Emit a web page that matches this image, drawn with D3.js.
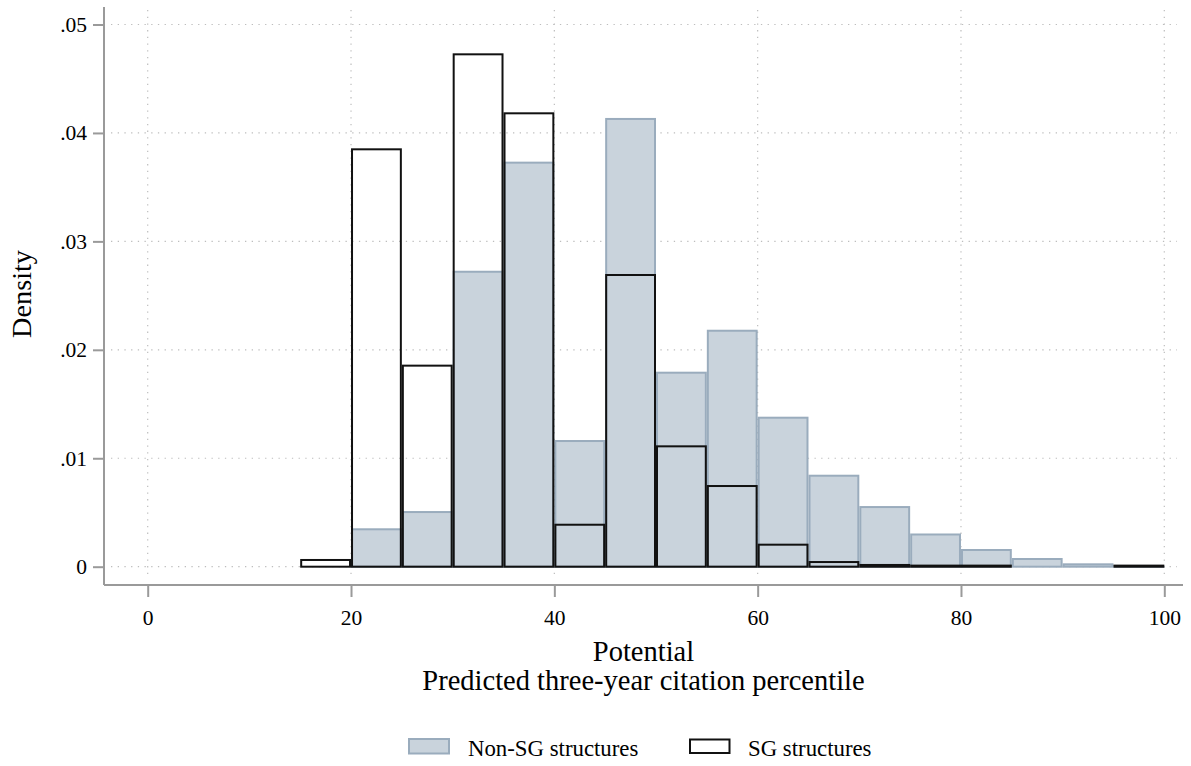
<!DOCTYPE html>
<html>
<head>
<meta charset="utf-8">
<script src="https://cdn.jsdelivr.net/npm/d3@7"></script>
<style>
  html, body { margin: 0; padding: 0; background: #fff; }
  svg { display: block; font-family: "Liberation Serif", "Times New Roman", serif; }
</style>
</head>
<body>
<svg id="chart" width="1191" height="766"></svg>
<script>
// Histogram bins (left edges, width 5) of the predicted citation percentile
const binStarts = [15, 20, 25, 30, 35, 40, 45, 50, 55, 60, 65, 70, 75, 80, 85, 90, 95];
const binWidth = 5;
// Density per bin
const nonSGDensity = [0, 0.00345, 0.00504, 0.0272, 0.03726, 0.01159, 0.04129, 0.01789, 0.02176,
                      0.01374, 0.00839, 0.0055, 0.00297, 0.00154, 0.00071, 0.00022, 0.00005];
const sgDensity    = [0.00062, 0.03849, 0.01854, 0.04725, 0.04181, 0.00387, 0.0269, 0.0111, 0.00744,
                      0.00203, 0.00043, 0.00016, 0.0001, 0.0001, 0, 0, 0.0001];
const xTicks = [0, 20, 40, 60, 80, 100];
const yTicks = [0, 0.01, 0.02, 0.03, 0.04, 0.05];
const yTickLabels = ["0", ".01", ".02", ".03", ".04", ".05"];
const seriesNames = ["Non-SG structures", "SG structures"];

const svg = d3.select("#chart");
const x = d3.scaleLinear().domain([0, 100]).range([147.7, 1164.3]);
const y = d3.scaleLinear().domain([0, 0.05]).range([566.7, 24.5]);

const axisGray = "#9a9a9a";
const fillBlue = "#c9d3dc";
const strokeBlue = "#9aacbd";

// Grid lines (dotted)
const grid = svg.append("g").attr("stroke", "#bdbdbd").attr("stroke-width", 1.2)
  .attr("stroke-dasharray", "1.3,5.4");
grid.selectAll(".hg").data(yTicks).join("line")
  .attr("x1", 111).attr("x2", 1177)
  .attr("y1", d => y(d)).attr("y2", d => y(d));
grid.selectAll(".vg").data(xTicks).join("line")
  .attr("y1", 10).attr("y2", 578)
  .attr("x1", d => x(d)).attr("x2", d => x(d));

// Non-SG bars (filled)
svg.append("g").selectAll("rect")
  .data(binStarts.map((b, i) => ({ b, v: nonSGDensity[i] })).filter(d => d.v > 0))
  .join("rect")
  .attr("x", d => x(d.b) + 1)
  .attr("width", d => x(d.b + binWidth) - x(d.b) - 2)
  .attr("y", d => y(d.v))
  .attr("height", d => y(0) - y(d.v))
  .attr("fill", fillBlue)
  .attr("stroke", strokeBlue)
  .attr("stroke-width", 2);

// SG bars (outline only)
svg.append("g").selectAll("rect")
  .data(binStarts.map((b, i) => ({ b, v: sgDensity[i] })).filter(d => d.v > 0))
  .join("rect")
  .attr("x", d => x(d.b) + 1)
  .attr("width", d => x(d.b + binWidth) - x(d.b) - 2)
  .attr("y", d => y(d.v))
  .attr("height", d => y(0) - y(d.v))
  .attr("fill", "none")
  .attr("stroke", "#111")
  .attr("stroke-width", 2);

// Y axis
const yAxis = d3.axisLeft(y).tickValues(yTicks)
  .tickFormat((d, i) => yTickLabels[i]).tickSize(11).tickPadding(6);
const gy = svg.append("g").attr("transform", "translate(104,0)").call(yAxis);
gy.select(".domain").attr("d", "M0,7V585").attr("stroke", axisGray).attr("stroke-width", 2);
gy.selectAll(".tick line").attr("stroke", axisGray).attr("stroke-width", 2);
gy.selectAll(".tick text").attr("font-size", 21.5).attr("fill", "#000")
  .attr("font-family", "Liberation Serif, serif");

// X axis
const xAxis = d3.axisBottom(x).tickValues(xTicks).tickSize(12).tickPadding(13);
const gx = svg.append("g").attr("transform", "translate(0,585)").call(xAxis);
gx.select(".domain").attr("d", "M104,0H1183").attr("stroke", axisGray).attr("stroke-width", 2);
gx.selectAll(".tick line").attr("stroke", axisGray).attr("stroke-width", 2);
gx.selectAll(".tick text").attr("font-size", 21.5).attr("fill", "#000")
  .attr("font-family", "Liberation Serif, serif");

// Axis titles
svg.append("text").attr("x", 643.5).attr("y", 661).attr("text-anchor", "middle")
  .attr("font-size", 28.5).text("Potential");
svg.append("text").attr("x", 643.5).attr("y", 690).attr("text-anchor", "middle")
  .attr("font-size", 28.5).text("Predicted three-year citation percentile");
svg.append("text").attr("transform", "translate(30.5,294) rotate(-90)")
  .attr("text-anchor", "middle").attr("font-size", 28.3).text("Density");

// Legend
const legend = svg.append("g");
legend.append("rect").attr("x", 409).attr("y", 739).attr("width", 40).attr("height", 14.5)
  .attr("fill", fillBlue).attr("stroke", strokeBlue).attr("stroke-width", 2);
legend.append("text").attr("x", 468).attr("y", 755.5).attr("font-size", 22.8).text(seriesNames[0]);
legend.append("rect").attr("x", 690).attr("y", 739.5).attr("width", 39.5).attr("height", 13.5)
  .attr("fill", "#fff").attr("stroke", "#111").attr("stroke-width", 2);
legend.append("text").attr("x", 748).attr("y", 755.5).attr("font-size", 22.8).text(seriesNames[1]);
</script>
</body>
</html>
